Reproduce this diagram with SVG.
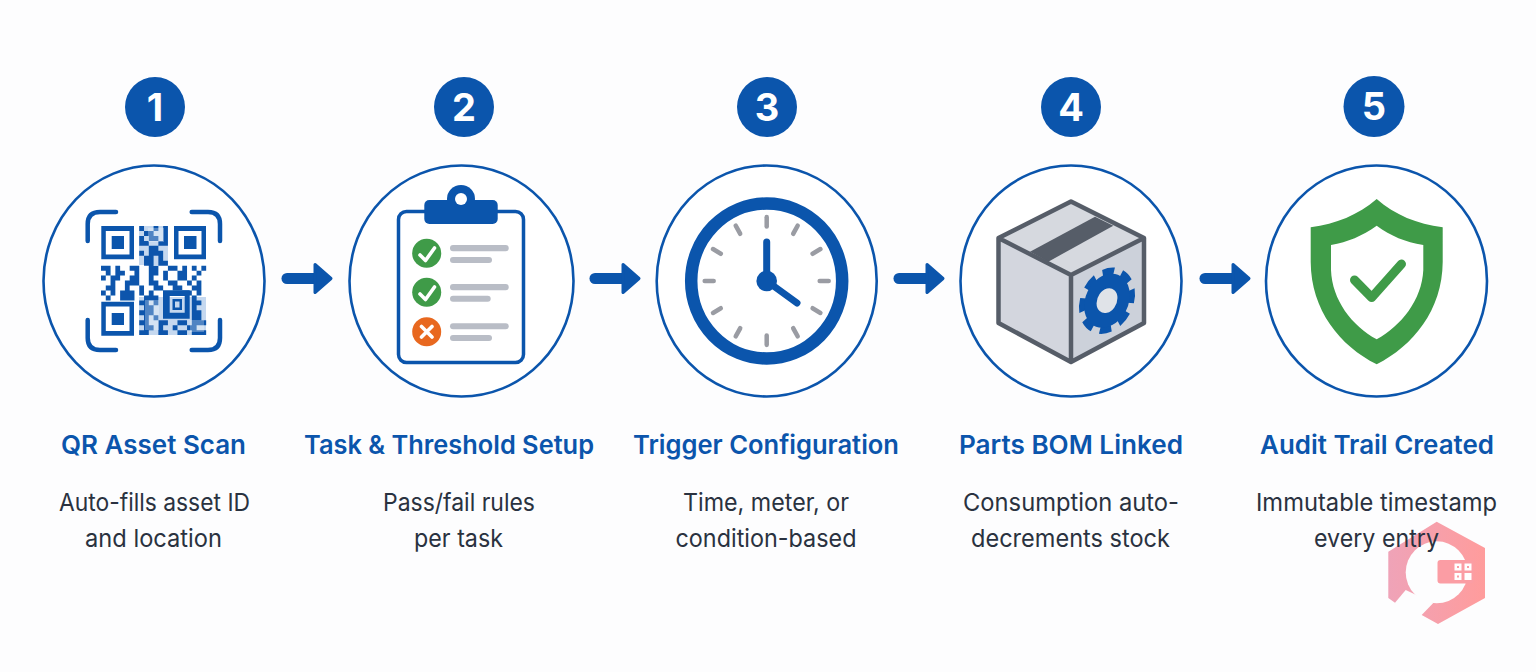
<svg xmlns="http://www.w3.org/2000/svg" width="1536" height="672" viewBox="0 0 1536 672">
<style>
.ring{fill:#fff;stroke:#0b55ac;stroke-width:2.6}
.badge{fill:#0b55ac}
.num{font:700 38px Inter,"Liberation Sans",sans-serif;fill:#fff;text-anchor:middle}
.title{font:600 26px Inter,"Liberation Sans",sans-serif;fill:#0b55ac;text-anchor:middle}
.desc{font:400 24.500px Inter,"Liberation Sans",sans-serif;fill:#2a3240;text-anchor:middle}
.blue{fill:#0b55ac}
.bar{fill:#b9bdc6}
.tick{stroke:#9a9ca3;stroke-width:4.500;stroke-linecap:round}
.cn{stroke:#0b55ac;stroke-width:11;stroke-linecap:round;fill:none;marker-end:url(#head)}
.wl{fill:none;stroke:#fff;stroke-width:3.600;stroke-linecap:round;stroke-linejoin:round}
</style>
<defs>
<marker id="head" markerUnits="userSpaceOnUse" markerWidth="24" markerHeight="36" refX="2" refY="18" orient="auto"><path d="M2 4 L18 18 L2 32z" fill="#0b55ac" stroke="#0b55ac" stroke-width="3" stroke-linejoin="round"/></marker>
<linearGradient id="wm" x1="0" x2="1" y1="0" y2="0"><stop offset="0" stop-color="#efa3b8"/><stop offset="1" stop-color="#ff9c9c"/></linearGradient>
<filter id="soft" x="-5%" y="-5%" width="110%" height="110%"><feGaussianBlur stdDeviation="0.600"/></filter>
</defs>
<rect width="1536" height="672" fill="#fdfdfe"/>

<g id="watermark">
<path d="M1436.700 521.700L1485 548V598L1438 624L1421.700 615L1395 602.700L1388.300 598V551.700z" fill="url(#wm)"/>
<circle cx="1436.700" cy="572.300" r="31" fill="#fdfdfe"/>
<path d="M1405.700 590L1433.300 603L1421.700 615L1409 622L1395 602.700z" fill="#fdfdfe"/>
<rect x="1437.500" y="560" width="36" height="23.500" rx="3" fill="#fb9da4"/>
<path d="M1454.500 563.500h7v7h-7zM1464.500 563.500h7v7h-7zM1454.500 573h7v7h-7zM1464.500 573h7v7h-7z" fill="#fff"/>
<path d="M1457 566h2v2h-2zM1467 566h2v2h-2zM1457 575.500h2v2h-2z" fill="#fb9da4"/>
</g>

<g id="connectors">
<path class="cn" d="M287 278.500H315"/>
<path class="cn" d="M595 278.500H623"/>
<path class="cn" d="M899 278.500H927"/>
<path class="cn" d="M1205 278.500H1233"/>
</g>

<g id="node1">
<circle class="badge" cx="155" cy="107" r="30"/>
<text class="num" x="155" y="121">1</text>
<ellipse class="ring" cx="154" cy="281" rx="110.500" ry="115.500"/>
<path d="M87.700 241V224Q87.700 212 100 212H116M191.700 212H208Q220 212 220 224V241M87.700 320V338Q87.700 350 100 350H116M191.700 350H208Q220 350 220 338V320" fill="none" stroke="#0b55ac" stroke-width="4.500" stroke-linecap="round"/>
<path class="blue" fill-rule="evenodd" d="M101.300 226H134V259.300H101.300zM105.800 231V254.500H129.500V231zM174 226H206V259.300H174zM178.500 231V254.500H201.500V231zM101.300 301.700H134V335.700H101.300zM105.800 306.500V331H129.500V306.500z"/>
<path class="blue" d="M111.700 236H124V249H111.700zM184 236H196.500V249H184zM111.700 313H124V325H111.700z"/>
<path d="M139 226H168V265H139zM139 297H206V335H139z" fill="#c5d8ef"/>
<g filter="url(#soft)">
<g transform="translate(101 226) scale(4.780 4.960)">
<path fill="none" stroke="#0b55ac" stroke-width="1" d="M8 .5h1m2 0h1m1 0h1M9 1.500h2m2 0h1M8 2.500h1m1 0h2m1 0h1M8 3.500h2m2 0h2M10 4.500h2M8 5.500h1m1 0h3M9 6.500h2m1 0h1M9 7.500h2m1 0h2M0 8.500h2m1 0h1m2 0h2m2 0h2m2 0h2m1 0h1m1 0h1m1 0h1M1 9.500h1m1 0h2m2 0h1m2 0h2m1 0h1m2 0h2m2 0h1M0 10.500h1m1 0h2m2 0h2m2 0h1m2 0h1m2 0h2m1 0h1M2 11.500h1m2 0h3m2 0h2m2 0h2m2 0h1m1 0h1M1 12.500h2m2 0h1m2 0h1m2 0h2m2 0h2m2 0h2M0 13.500h1m1 0h1m1 0h3m1 0h1m1 0h1m6 0h2m1 0h1M1 14.500h1m2 0h3m2 0h3m7 0h1M8 15.500h2m1 0h1m7 0h2M9 16.500h2m8 0h1M8 17.500h3m8 0h2M9 18.500h1m1 0h1m7 0h2M8 19.500h2m2 0h2m2 0h2m1 0h3M9 20.500h2m1 0h1m2 0h1m2 0h2M8 21.500h2m2 0h2m2 0h2m1 0h3"/>
</g>
</g>
<path d="M145 300h14v30h-14zM148 228h16v14h-16zM190 320h14v12h-14z" fill="#fff" opacity=".28"/>
<path class="blue" fill-rule="evenodd" d="M163 290.300H189.700V318.700H163zM169.700 296V312.700H184.700V296z"/>
<path class="blue" fill-rule="evenodd" d="M172.500 299H182V310H172.500zM175 301.500V307.500H179.500V301.500z"/>
</g>

<g id="node2">
<circle class="badge" cx="464" cy="107" r="30"/>
<text class="num" x="464" y="121">2</text>
<ellipse class="ring" cx="461.500" cy="281" rx="112" ry="115.500"/>
<rect x="398.500" y="211.500" width="125" height="151" rx="8" fill="#fff" stroke="#0b55ac" stroke-width="3.500"/>
<circle class="blue" cx="461" cy="199" r="14"/>
<rect class="blue" x="424.300" y="200" width="73.400" height="24" rx="5"/>
<circle cx="461" cy="199" r="6" fill="#fff"/>
<circle cx="426.700" cy="253.300" r="14.500" fill="#3f9b48"/>
<circle cx="426.700" cy="292.300" r="14.500" fill="#3f9b48"/>
<circle cx="426.700" cy="331.700" r="14.500" fill="#e8681f"/>
<path class="wl" d="M420 255L425.500 260.500L434.500 248M420 294L425.500 299.500L434.500 287M421.500 326.500L432 337M432 326.500L421.500 337"/>
<rect class="bar" x="450" y="245" width="58.700" height="6.300" rx="3"/>
<rect class="bar" x="450" y="257" width="42" height="6" rx="3"/>
<rect class="bar" x="450" y="284" width="58.700" height="6.300" rx="3"/>
<rect class="bar" x="450" y="295.700" width="40.700" height="6" rx="3"/>
<rect class="bar" x="450" y="323.300" width="58.700" height="6" rx="3"/>
<rect class="bar" x="450" y="335" width="42" height="6" rx="3"/>
</g>

<g id="node3">
<circle class="badge" cx="767" cy="107" r="30"/>
<text class="num" x="767" y="121">3</text>
<ellipse class="ring" cx="766.700" cy="281" rx="110" ry="115.500"/>
<ellipse cx="766.700" cy="281" rx="75.500" ry="77.500" fill="#fff" stroke="#0b55ac" stroke-width="12.500"/>
<g transform="translate(766.700 281) scale(1 1.030)">
<g class="tick">
<line x1="0" y1="-62" x2="0" y2="-53"/><line x1="0" y1="62" x2="0" y2="53"/><line x1="-62" y1="0" x2="-53" y2="0"/><line x1="62" y1="0" x2="53" y2="0"/>
<line x1="31" y1="-53.700" x2="26.500" y2="-45.900"/><line x1="53.700" y1="-31" x2="45.900" y2="-26.500"/><line x1="53.700" y1="31" x2="45.900" y2="26.500"/><line x1="31" y1="53.700" x2="26.500" y2="45.900"/>
<line x1="-31" y1="-53.700" x2="-26.500" y2="-45.900"/><line x1="-53.700" y1="-31" x2="-45.900" y2="-26.500"/><line x1="-53.700" y1="31" x2="-45.900" y2="26.500"/><line x1="-31" y1="53.700" x2="-26.500" y2="45.900"/>
</g></g>
<path d="M766.700 242V281L797 303" fill="none" stroke="#0b55ac" stroke-width="7" stroke-linecap="round" stroke-linejoin="round"/>
<circle class="blue" cx="766.700" cy="281" r="10.300"/>
</g>

<g id="node4">
<circle class="badge" cx="1071" cy="107" r="30"/>
<text class="num" x="1071" y="121">4</text>
<ellipse class="ring" cx="1071" cy="281" rx="110.500" ry="115.500"/>
<path d="M1071 201.500L1144 238L1071 275L998.500 238z" fill="#d6d9df"/>
<path d="M998.500 238L1071 275V362L998.500 323z" fill="#d3d6de"/>
<path d="M1144 238L1071 275V362L1144 323z" fill="#ccd1da"/>
<path d="M1095 216.700L1113.300 225.700L1048.300 261.700L1030 251.700z" fill="#565d68"/>
<path d="M1071 201.500L1144 238V323L1071 362L998.500 323V238zM998.500 238L1071 275L1144 238M1071 275V362" fill="none" stroke="#565d68" stroke-width="4.500" stroke-linejoin="round"/>
<g transform="translate(1107 300.700) skewY(-14) scale(.95 1.100)">
<circle r="26" fill="none" stroke="#0b55ac" stroke-width="7" stroke-dasharray="12 8.420" transform="rotate(-100)"/>
<circle r="17.500" fill="#e0e3e8" stroke="#0b55ac" stroke-width="13"/>
</g>
</g>

<g id="node5">
<circle class="badge" cx="1374" cy="106.500" r="30.500"/>
<text class="num" x="1374" y="120">5</text>
<ellipse class="ring" cx="1376.500" cy="281" rx="110.500" ry="115.500"/>
<path fill="#3f9b48" fill-rule="evenodd" d="M1376.700 199C1358 215 1336 224 1310.700 227.300V262C1311 310 1340 346 1376.700 364.300C1413 346 1442.400 310 1442.700 262V227.300C1417 224 1395 215 1376.700 199zM1376.700 225.700C1362 236 1348 242 1331 245V270C1332 300 1352 326 1376.700 339.300C1401 326 1422 300 1423.300 270V245C1405 242 1391 236 1376.700 225.700z"/>
<path d="M1354.500 280L1371.700 297.500L1401.500 264" fill="none" stroke="#3f9b48" stroke-width="9" stroke-linecap="round" stroke-linejoin="round"/>
</g>

<g id="labels">
<text class="title" x="153.500" y="454" textLength="185" lengthAdjust="spacingAndGlyphs">QR Asset Scan</text>
<text class="desc" x="154.500" y="511" textLength="191" lengthAdjust="spacingAndGlyphs">Auto-fills asset ID</text>
<text class="desc" x="153.500" y="547" textLength="137" lengthAdjust="spacingAndGlyphs">and location</text>
<text class="title" x="449" y="454" textLength="290" lengthAdjust="spacingAndGlyphs">Task &amp; Threshold Setup</text>
<text class="desc" x="459" y="511" textLength="152" lengthAdjust="spacingAndGlyphs">Pass/fail rules</text>
<text class="desc" x="458.500" y="547" textLength="89" lengthAdjust="spacingAndGlyphs">per task</text>
<text class="title" x="766" y="454" textLength="266" lengthAdjust="spacingAndGlyphs">Trigger Configuration</text>
<text class="desc" x="766" y="511" textLength="166" lengthAdjust="spacingAndGlyphs">Time, meter, or</text>
<text class="desc" x="766" y="547" textLength="181" lengthAdjust="spacingAndGlyphs">condition-based</text>
<text class="title" x="1071" y="454" textLength="224" lengthAdjust="spacingAndGlyphs">Parts BOM Linked</text>
<text class="desc" x="1071" y="511" textLength="216" lengthAdjust="spacingAndGlyphs">Consumption auto-</text>
<text class="desc" x="1070.500" y="547" textLength="199" lengthAdjust="spacingAndGlyphs">decrements stock</text>
<text class="title" x="1377" y="454" textLength="234" lengthAdjust="spacingAndGlyphs">Audit Trail Created</text>
<text class="desc" x="1376.500" y="511" textLength="241" lengthAdjust="spacingAndGlyphs">Immutable timestamp</text>
<text class="desc" x="1376.500" y="547" textLength="125" lengthAdjust="spacingAndGlyphs">every entry</text>
</g>
</svg>
